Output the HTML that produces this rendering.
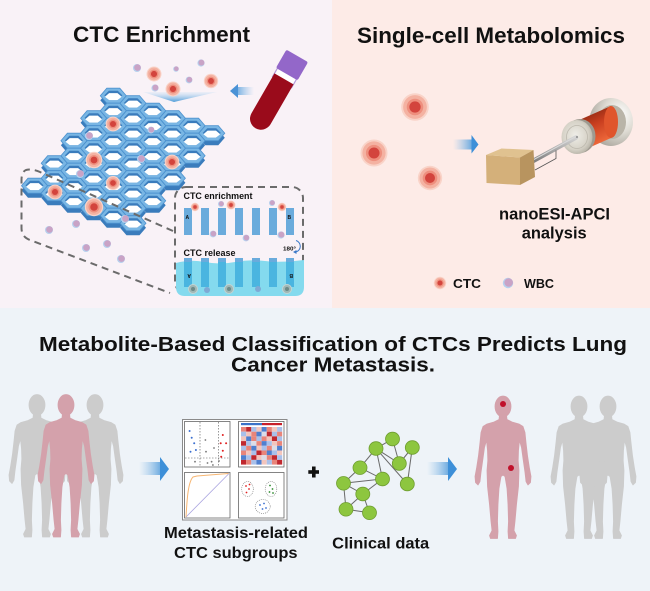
<!DOCTYPE html>
<html><head><meta charset="utf-8"><style>
html,body{margin:0;padding:0;background:#eef3f8;}
svg{display:block;}
text{font-family:"Liberation Sans",Arial,sans-serif;font-weight:bold;fill:#111;}
</style></head><body>
<svg width="650" height="591" viewBox="0 0 650 591" xmlns="http://www.w3.org/2000/svg">
<defs>
 <linearGradient id="shaftR" x1="0" y1="0" x2="1" y2="0"><stop offset="0" stop-color="#9cc7ec" stop-opacity="0"/><stop offset="1" stop-color="#6aa9df"/></linearGradient>
 <linearGradient id="shaftL" x1="1" y1="0" x2="0" y2="0"><stop offset="0" stop-color="#9cc7ec" stop-opacity="0"/><stop offset="1" stop-color="#6aa9df"/></linearGradient>
 <linearGradient id="wedge" x1="0" y1="0" x2="0" y2="1"><stop offset="0" stop-color="#cfe4f6" stop-opacity="0.3"/><stop offset="1" stop-color="#4d9bd8"/></linearGradient>
 <radialGradient id="backF" cx="0.7" cy="0.35" r="0.75"><stop offset="0" stop-color="#ffffff"/><stop offset="0.5" stop-color="#dedbd3"/><stop offset="1" stop-color="#a8a49b"/></radialGradient>
 <linearGradient id="redB" x1="0" y1="0" x2="0.35" y2="1"><stop offset="0" stop-color="#6a1e0c"/><stop offset="0.5" stop-color="#c83e1f"/><stop offset="1" stop-color="#f5703f"/></linearGradient>
 <radialGradient id="frontF" cx="0.45" cy="0.45" r="0.6"><stop offset="0" stop-color="#efeee8"/><stop offset="0.7" stop-color="#d6d2c7"/><stop offset="1" stop-color="#b3afa3"/></radialGradient>
 <linearGradient id="rod" x1="0" y1="0" x2="0" y2="1"><stop offset="0" stop-color="#d4d4d4"/><stop offset="1" stop-color="#808080"/></linearGradient>
 <g id="hx">
  <polygon points="-13,4.5 -6.5,-3 6.5,-3 13,4.5 6.5,12 -6.5,12" fill="#3a7cbc"/>
  <polygon points="-13,0 -6.5,-7.5 6.5,-7.5 13,0 6.5,7.5 -6.5,7.5" fill="#79b6e4" stroke="#4d92cf" stroke-width="0.8"/>
  <polygon points="-9,-0.3 -4.5,-5 4.5,-5 9,-0.3 4.5,4.4 -4.5,4.4" fill="#3a7cbc"/>
  <polygon points="-8.4,1 -4.2,-2.6 4.2,-2.6 8.4,1 4.2,4.4 -4.2,4.4" fill="#ffffff"/>
 </g>
 <g id="ctc">
  <circle r="10" fill="#f9d3c8"/>
  <circle r="8.6" fill="#f4b2a2"/>
  <circle r="6" fill="#ee8f7e"/>
  <circle r="4.1" fill="#d3443d"/>
 </g>
 <g id="wbc">
  <circle r="4" fill="#b6d1ee"/>
  <circle cx="0.5" cy="-0.4" r="3.3" fill="#c9a3c6"/>
 </g>
 <path id="hum" d="M3.5,18 L4,23 L9,25.5 L16,27.5 L20,30 L22,36 L23,46 L24.5,59 L26.5,72 L28,80 L27.5,86 L25,88.5 L23,85 L22,76 L20,62 L18.5,51 L16.5,44 L15.5,54 L15.2,64 L16,74 L15.5,90 L13.5,108 L12,125 L11,134 L13.5,139 L12.5,142 L5.5,142 L5,135 L5.5,125 L5,108 L4,92 L2,80 L0,78.5 L-2,80 L-4,92 L-5,108 L-5.5,125 L-5,135 L-5.5,142 L-12.5,142 L-13.5,139 L-11,134 L-12,125 L-13.5,108 L-15.5,90 L-16,74 L-15.2,64 L-15.5,54 L-16.5,44 L-18.5,51 L-20,62 L-22,76 L-23,85 L-25,88.5 L-27.5,86 L-28,80 L-26.5,72 L-24.5,59 L-23,46 L-22,36 L-20,30 L-16,27.5 L-9,25.5 L-4,23 L-3.5,18 Z M8,10 A8,10.5 0 1 1 -8,10 A8,10.5 0 1 1 8,10 Z"/>
</defs>

<!-- backgrounds -->
<rect x="0" y="0" width="650" height="591" fill="#eef3f8"/>
<rect x="0" y="0" width="332" height="308" fill="#f9f2f7"/>
<rect x="332" y="0" width="318" height="308" fill="#fdebe7"/>

<!-- titles -->
<text x="73" y="42" font-size="22" textLength="177" lengthAdjust="spacingAndGlyphs">CTC Enrichment</text>
<text x="357" y="43" font-size="22" textLength="268" lengthAdjust="spacingAndGlyphs">Single-cell Metabolomics</text>

<!-- top cells & wedge -->
<polygon points="143,92 217,92 174,102" fill="url(#wedge)"/>
<use href="#ctc" transform="translate(154,74) scale(0.75)"/>
<use href="#ctc" transform="translate(173,89) scale(0.75)"/>
<use href="#ctc" transform="translate(211,81) scale(0.72)"/>
<use href="#wbc" transform="translate(137,68)"/>
<use href="#wbc" transform="translate(176,69) scale(0.7)"/>
<use href="#wbc" transform="translate(201,63) scale(0.9)"/>
<use href="#wbc" transform="translate(189,80) scale(0.85)"/>
<use href="#wbc" transform="translate(155,88) scale(0.9)"/>

<!-- arrow left -->
<rect x="236" y="87" width="18" height="8" fill="url(#shaftL)"/>
<polygon points="238,84 230,91 238,98" fill="#4a92d6"/>

<!-- tube -->
<g transform="translate(292,65) rotate(30)">
 <rect x="-11" y="6" width="22" height="14" fill="#ffffff" stroke="#b59ad8" stroke-width="1.2"/>
 <path d="M-11,16 H11 V62 A11,11 0 0 1 -11,62 Z" fill="#9a0b1b"/>
 <rect x="-12.5" y="-10.5" width="25" height="21" rx="2" fill="#9367c9"/>
</g>

<!-- honeycomb -->
<g>
<use href="#hx" x="113.3" y="95.7"/>
<use href="#hx" x="133" y="103.2"/>
<use href="#hx" x="113.3" y="110.7"/><use href="#hx" x="152.7" y="110.7"/>
<use href="#hx" x="93.6" y="118.2"/><use href="#hx" x="133" y="118.2"/><use href="#hx" x="172.4" y="118.2"/>
<use href="#hx" x="113.3" y="125.7"/><use href="#hx" x="152.7" y="125.7"/><use href="#hx" x="192.1" y="125.7"/>
<use href="#hx" x="93.6" y="133.2"/><use href="#hx" x="133" y="133.2"/><use href="#hx" x="172.4" y="133.2"/><use href="#hx" x="211.8" y="133.2"/>
<use href="#hx" x="73.9" y="140.7"/><use href="#hx" x="113.3" y="140.7"/><use href="#hx" x="152.7" y="140.7"/><use href="#hx" x="192.1" y="140.7"/>
<use href="#hx" x="93.6" y="148.2"/><use href="#hx" x="133" y="148.2"/><use href="#hx" x="172.4" y="148.2"/>
<use href="#hx" x="73.9" y="155.7"/><use href="#hx" x="113.3" y="155.7"/><use href="#hx" x="152.7" y="155.7"/><use href="#hx" x="192.1" y="155.7"/>
<use href="#hx" x="54.2" y="163.2"/><use href="#hx" x="93.6" y="163.2"/><use href="#hx" x="133" y="163.2"/><use href="#hx" x="172.4" y="163.2"/>
<use href="#hx" x="73.9" y="170.7"/><use href="#hx" x="113.3" y="170.7"/><use href="#hx" x="152.7" y="170.7"/>
<use href="#hx" x="54.2" y="178.2"/><use href="#hx" x="93.6" y="178.2"/><use href="#hx" x="133" y="178.2"/><use href="#hx" x="172.4" y="178.2"/>
<use href="#hx" x="34.5" y="185.7"/><use href="#hx" x="73.9" y="185.7"/><use href="#hx" x="113.3" y="185.7"/><use href="#hx" x="152.7" y="185.7"/>
<use href="#hx" x="54.2" y="193.2"/><use href="#hx" x="93.6" y="193.2"/><use href="#hx" x="133" y="193.2"/>
<use href="#hx" x="73.9" y="200.7"/><use href="#hx" x="113.3" y="200.7"/><use href="#hx" x="152.7" y="200.7"/>
<use href="#hx" x="93.6" y="208.2"/><use href="#hx" x="133" y="208.2"/>
<use href="#hx" x="113.3" y="215.7"/>
<use href="#hx" x="133" y="223.2"/>
</g>

<!-- dashed callout -->
<path d="M173,231 L40,172 Q32,168.5 26,170 Q21.5,172 21.5,180 L21.5,228 Q21.5,237 30,240 L170,293" fill="none" stroke="#6b6b6b" stroke-width="2" stroke-dasharray="7 5"/>
<rect x="175" y="187" width="128" height="106" rx="11" fill="none" stroke="#6b6b6b" stroke-width="2" stroke-dasharray="7 5"/>

<!-- cells on grid -->
<use href="#ctc" transform="translate(113,124) scale(0.74)"/>
<use href="#ctc" transform="translate(94,160) scale(0.83)"/>
<use href="#ctc" transform="translate(172,162) scale(0.74)"/>
<use href="#ctc" transform="translate(113,183) scale(0.7)"/>
<use href="#ctc" transform="translate(55,192) scale(0.74)"/>
<use href="#ctc" transform="translate(94,207) scale(0.92)"/>
<use href="#wbc" transform="translate(89,136)"/>
<use href="#wbc" transform="translate(151,130) scale(0.85)"/>
<use href="#wbc" transform="translate(141,159)"/>
<use href="#wbc" transform="translate(80,174)"/>
<use href="#wbc" transform="translate(125,219)"/>
<use href="#wbc" transform="translate(49,230)"/>
<use href="#wbc" transform="translate(76,224)"/>
<use href="#wbc" transform="translate(86,248)"/>
<use href="#wbc" transform="translate(107,244)"/>
<use href="#wbc" transform="translate(121,259)"/>

<!-- inset -->
<text x="183.5" y="199" font-size="9" textLength="69" lengthAdjust="spacingAndGlyphs">CTC enrichment</text>
<g fill="#6aabdc">
 <rect x="184" y="208" width="8" height="27"/><rect x="201" y="208" width="8" height="27"/><rect x="218" y="208" width="8" height="27"/><rect x="235" y="208" width="8" height="27"/><rect x="252" y="208" width="8" height="27"/><rect x="269" y="208" width="8" height="27"/><rect x="286" y="208" width="8" height="27"/>
</g>
<text x="185.5" y="219" font-size="5" fill="#333">A</text>
<text x="287.5" y="219" font-size="5" fill="#333">B</text>
<use href="#ctc" transform="translate(195,207) scale(0.42)"/>
<use href="#ctc" transform="translate(231,205) scale(0.45)"/>
<use href="#ctc" transform="translate(282,207) scale(0.42)"/>
<use href="#wbc" transform="translate(221,204) scale(0.75)"/>
<use href="#wbc" transform="translate(272,203) scale(0.75)"/>
<use href="#wbc" transform="translate(213,234) scale(0.85)"/>
<use href="#wbc" transform="translate(246,238) scale(0.85)"/>
<use href="#wbc" transform="translate(281,235) scale(0.9)"/>
<text x="283" y="250.5" font-size="5.5" textLength="13" lengthAdjust="spacingAndGlyphs">180°</text>
<path d="M296,240.5 A6,6 0 0 1 296,252" fill="none" stroke="#3a78c8" stroke-width="1"/>
<polygon points="296.5,250 296.5,254 293,252" fill="#3a78c8"/>
<text x="183.5" y="256" font-size="9" textLength="52" lengthAdjust="spacingAndGlyphs">CTC release</text>
<path d="M176,263 Q190,259 205,262 T235,262 T265,261 T304,260 L304,287 Q304,296 295,296 L185,296 Q176,296 176,287 Z" fill="#84daee"/>
<g fill="#4ab5e0">
 <rect x="184" y="258" width="8" height="29"/><rect x="201" y="258" width="8" height="29"/><rect x="218" y="258" width="8" height="29"/><rect x="235" y="258" width="8" height="29"/><rect x="252" y="258" width="8" height="29"/><rect x="269" y="258" width="8" height="29"/><rect x="286" y="258" width="8" height="29"/>
</g>
<g fill="#6aabdc">
 <rect x="184" y="258" width="8" height="4"/><rect x="201" y="258" width="8" height="4"/><rect x="218" y="258" width="8" height="4"/><rect x="235" y="258" width="8" height="4"/><rect x="252" y="258" width="8" height="4"/><rect x="269" y="258" width="8" height="4"/><rect x="286" y="258" width="8" height="4"/>
</g>
<text x="0" y="0" font-size="5" fill="#335" transform="translate(191,274) rotate(180)">A</text>
<text x="0" y="0" font-size="5" fill="#335" transform="translate(293,274) rotate(180)">B</text>
<g>
 <circle cx="193" cy="289" r="4.5" fill="#9fb7b5" stroke="#c3d4d2" stroke-width="1"/><circle cx="193" cy="289" r="2" fill="#6d8a88"/>
 <circle cx="229" cy="289" r="4.5" fill="#9fb7b5" stroke="#c3d4d2" stroke-width="1"/><circle cx="229" cy="289" r="2" fill="#6d8a88"/>
 <circle cx="287" cy="289" r="4.5" fill="#9fb7b5" stroke="#c3d4d2" stroke-width="1"/><circle cx="287" cy="289" r="2" fill="#6d8a88"/>
 <circle cx="207" cy="290" r="3" fill="#7fa9d4"/>
 <circle cx="258" cy="289" r="3" fill="#7fa9d4"/>
</g>

<!-- top right panel -->
<use href="#ctc" transform="translate(415,107) scale(1.38)"/>
<use href="#ctc" transform="translate(374,153) scale(1.35)"/>
<use href="#ctc" transform="translate(430,178) scale(1.22)"/>
<rect x="453" y="139.5" width="19" height="10" fill="url(#shaftR)"/>
<polygon points="471.5,135 478.5,144.5 471.5,153.5" fill="#3d8fd8"/>

<!-- instrument -->
<ellipse cx="611" cy="122" rx="22" ry="24" fill="url(#backF)"/>
<ellipse cx="612" cy="122" rx="14" ry="17" fill="#b9b4a8"/>
<polygon points="577,121 611,106 611,138 577,153" fill="url(#redB)"/>
<ellipse cx="611" cy="122" rx="7" ry="16" fill="#e0552c"/>
<ellipse cx="580" cy="136" rx="15.5" ry="17" fill="#9e9a90"/>
<ellipse cx="577" cy="137" rx="15.5" ry="17" fill="url(#frontF)"/>
<ellipse cx="577" cy="137" rx="10.5" ry="11.5" fill="none" stroke="#bcb8ad" stroke-width="0.8"/>
<line x1="533" y1="161" x2="576" y2="137.5" stroke="url(#rod)" stroke-width="4.5" stroke-linecap="round"/>
<line x1="533" y1="160" x2="576" y2="136.5" stroke="#d8d8d8" stroke-width="1"/>
<circle cx="577" cy="137" r="0.9" fill="#777"/>
<polygon points="486,155 520,157.5 520,185 486.5,183" fill="#d4b07a"/>
<polygon points="486,155 501.5,148.5 533.5,150 520,157.5" fill="#e0c290"/>
<polygon points="520,157.5 533.5,150 535,177 520,185" fill="#b8945f"/>
<polyline points="535,170 556,158.5 556,150.5" fill="none" stroke="#555" stroke-width="0.8"/>
<text x="554.5" y="219.5" font-size="16.5" text-anchor="middle" textLength="111" lengthAdjust="spacingAndGlyphs">nanoESI-APCI</text>
<text x="554.2" y="238.5" font-size="16.5" text-anchor="middle" textLength="65" lengthAdjust="spacingAndGlyphs">analysis</text>
<use href="#ctc" transform="translate(440,283) scale(0.62)"/>
<text x="453" y="288" font-size="13" textLength="28" lengthAdjust="spacingAndGlyphs">CTC</text>
<g transform="translate(508,283) scale(1.3)"><use href="#wbc"/></g>
<text x="524" y="288" font-size="13" textLength="30" lengthAdjust="spacingAndGlyphs">WBC</text>

<!-- bottom title -->
<text x="39" y="351" font-size="20.5" textLength="588" lengthAdjust="spacingAndGlyphs">Metabolite-Based Classification of CTCs Predicts Lung</text>
<text x="231" y="371.5" font-size="20.5" textLength="204" lengthAdjust="spacingAndGlyphs">Cancer Metastasis.</text>

<!-- people left -->
<use href="#hum" transform="translate(37,395)" fill="#cccccc" stroke="#cccccc" stroke-width="0.8" stroke-linejoin="round"/>
<use href="#hum" transform="translate(95,395)" fill="#cccccc" stroke="#cccccc" stroke-width="0.8" stroke-linejoin="round"/>
<use href="#hum" transform="translate(66,395)" fill="#d4a1ab" stroke="#d4a1ab" stroke-width="0.8" stroke-linejoin="round"/>

<!-- arrows -->
<rect x="139" y="462" width="22" height="13" fill="url(#shaftR)"/>
<polygon points="160,457 169,469 160,481" fill="#3d8fd8"/>
<rect x="427" y="462" width="22" height="13" fill="url(#shaftR)"/>
<polygon points="448,457 457,469 448,481" fill="#3d8fd8"/>

<!-- charts -->
<rect x="182.5" y="419.5" width="104.5" height="100.5" fill="#ffffff" stroke="#8a8a8a" stroke-width="1"/>
<rect x="184.5" y="421.5" width="45.5" height="45.5" fill="#fff" stroke="#666" stroke-width="0.8"/>
<rect x="238.5" y="421.5" width="45.5" height="45.5" fill="#fff" stroke="#666" stroke-width="0.8"/>
<rect x="184.5" y="472.5" width="45.5" height="45.5" fill="#fff" stroke="#666" stroke-width="0.8"/>
<rect x="238.5" y="472.5" width="45.5" height="45.5" fill="#fff" stroke="#666" stroke-width="0.8"/>
<g stroke="#555" stroke-width="0.6" stroke-dasharray="1.5 1.5">
 <line x1="200" y1="422" x2="200" y2="466.5"/><line x1="218.5" y1="422" x2="218.5" y2="466.5"/><line x1="185" y1="458" x2="229.5" y2="458"/>
</g>
<g fill="#3b6fd0"><circle cx="189.6" cy="431" r="1"/><circle cx="191.7" cy="437.7" r="1"/><circle cx="194.2" cy="443.3" r="1"/><circle cx="195.9" cy="450" r="1"/><circle cx="190.5" cy="451.7" r="1"/></g>
<g fill="#e02020"><circle cx="222.8" cy="435" r="1"/><circle cx="220.7" cy="443.3" r="1"/><circle cx="226.1" cy="443.3" r="1"/><circle cx="222.8" cy="450.7" r="1"/><circle cx="221.2" cy="456.7" r="1"/></g>
<g fill="#777"><circle cx="205.4" cy="440" r="0.9"/><circle cx="206" cy="451.7" r="0.9"/><circle cx="195" cy="461.7" r="0.9"/><circle cx="211.6" cy="461.7" r="0.9"/><circle cx="212.9" cy="465" r="0.9"/><circle cx="207.5" cy="463" r="0.9"/><circle cx="219" cy="461" r="0.9"/><circle cx="214" cy="448" r="0.9"/></g>
<rect x="241" y="423" width="21" height="2.2" fill="#3a72c8"/><rect x="262" y="423" width="20" height="2.2" fill="#c81e2a"/>
<g>
<rect x="241" y="427" width="5.15" height="4.7" fill="#e9857a"/><rect x="246.15" y="427" width="5.15" height="4.7" fill="#c0282f"/><rect x="251.3" y="427" width="5.15" height="4.7" fill="#a9c0ea"/><rect x="256.45" y="427" width="5.15" height="4.7" fill="#f3c5bd"/><rect x="261.6" y="427" width="5.15" height="4.7" fill="#4f7fcf"/><rect x="266.75" y="427" width="5.15" height="4.7" fill="#e9857a"/><rect x="271.9" y="427" width="5.15" height="4.7" fill="#f3c5bd"/><rect x="277.05" y="427" width="5.15" height="4.7" fill="#a9c0ea"/>
<rect x="241" y="431.7" width="5.15" height="4.7" fill="#a9c0ea"/><rect x="246.15" y="431.7" width="5.15" height="4.7" fill="#f3c5bd"/><rect x="251.3" y="431.7" width="5.15" height="4.7" fill="#e9857a"/><rect x="256.45" y="431.7" width="5.15" height="4.7" fill="#4f7fcf"/><rect x="261.6" y="431.7" width="5.15" height="4.7" fill="#dcdde8"/><rect x="266.75" y="431.7" width="5.15" height="4.7" fill="#c0282f"/><rect x="271.9" y="431.7" width="5.15" height="4.7" fill="#a9c0ea"/><rect x="277.05" y="431.7" width="5.15" height="4.7" fill="#e9857a"/>
<rect x="241" y="436.4" width="5.15" height="4.7" fill="#f3c5bd"/><rect x="246.15" y="436.4" width="5.15" height="4.7" fill="#4f7fcf"/><rect x="251.3" y="436.4" width="5.15" height="4.7" fill="#e9857a"/><rect x="256.45" y="436.4" width="5.15" height="4.7" fill="#a9c0ea"/><rect x="261.6" y="436.4" width="5.15" height="4.7" fill="#e9857a"/><rect x="266.75" y="436.4" width="5.15" height="4.7" fill="#f3c5bd"/><rect x="271.9" y="436.4" width="5.15" height="4.7" fill="#c0282f"/><rect x="277.05" y="436.4" width="5.15" height="4.7" fill="#a9c0ea"/>
<rect x="241" y="441.1" width="5.15" height="4.7" fill="#c0282f"/><rect x="246.15" y="441.1" width="5.15" height="4.7" fill="#a9c0ea"/><rect x="251.3" y="441.1" width="5.15" height="4.7" fill="#dcdde8"/><rect x="256.45" y="441.1" width="5.15" height="4.7" fill="#e9857a"/><rect x="261.6" y="441.1" width="5.15" height="4.7" fill="#4f7fcf"/><rect x="266.75" y="441.1" width="5.15" height="4.7" fill="#a9c0ea"/><rect x="271.9" y="441.1" width="5.15" height="4.7" fill="#f3c5bd"/><rect x="277.05" y="441.1" width="5.15" height="4.7" fill="#e9857a"/>
<rect x="241" y="445.8" width="5.15" height="4.7" fill="#a9c0ea"/><rect x="246.15" y="445.8" width="5.15" height="4.7" fill="#e9857a"/><rect x="251.3" y="445.8" width="5.15" height="4.7" fill="#4f7fcf"/><rect x="256.45" y="445.8" width="5.15" height="4.7" fill="#f3c5bd"/><rect x="261.6" y="445.8" width="5.15" height="4.7" fill="#a9c0ea"/><rect x="266.75" y="445.8" width="5.15" height="4.7" fill="#e9857a"/><rect x="271.9" y="445.8" width="5.15" height="4.7" fill="#dcdde8"/><rect x="277.05" y="445.8" width="5.15" height="4.7" fill="#4f7fcf"/>
<rect x="241" y="450.5" width="5.15" height="4.7" fill="#e9857a"/><rect x="246.15" y="450.5" width="5.15" height="4.7" fill="#f3c5bd"/><rect x="251.3" y="450.5" width="5.15" height="4.7" fill="#a9c0ea"/><rect x="256.45" y="450.5" width="5.15" height="4.7" fill="#c0282f"/><rect x="261.6" y="450.5" width="5.15" height="4.7" fill="#e9857a"/><rect x="266.75" y="450.5" width="5.15" height="4.7" fill="#4f7fcf"/><rect x="271.9" y="450.5" width="5.15" height="4.7" fill="#a9c0ea"/><rect x="277.05" y="450.5" width="5.15" height="4.7" fill="#f3c5bd"/>
<rect x="241" y="455.2" width="5.15" height="4.7" fill="#4f7fcf"/><rect x="246.15" y="455.2" width="5.15" height="4.7" fill="#a9c0ea"/><rect x="251.3" y="455.2" width="5.15" height="4.7" fill="#c0282f"/><rect x="256.45" y="455.2" width="5.15" height="4.7" fill="#f3c5bd"/><rect x="261.6" y="455.2" width="5.15" height="4.7" fill="#dcdde8"/><rect x="266.75" y="455.2" width="5.15" height="4.7" fill="#e9857a"/><rect x="271.9" y="455.2" width="5.15" height="4.7" fill="#c0282f"/><rect x="277.05" y="455.2" width="5.15" height="4.7" fill="#a9c0ea"/>
<rect x="241" y="459.9" width="5.15" height="4.7" fill="#c0282f"/><rect x="246.15" y="459.9" width="5.15" height="4.7" fill="#e9857a"/><rect x="251.3" y="459.9" width="5.15" height="4.7" fill="#a9c0ea"/><rect x="256.45" y="459.9" width="5.15" height="4.7" fill="#4f7fcf"/><rect x="261.6" y="459.9" width="5.15" height="4.7" fill="#f3c5bd"/><rect x="266.75" y="459.9" width="5.15" height="4.7" fill="#a9c0ea"/><rect x="271.9" y="459.9" width="5.15" height="4.7" fill="#e9857a"/><rect x="277.05" y="459.9" width="5.15" height="4.7" fill="#c0282f"/>
</g>
<line x1="186" y1="517" x2="229" y2="473.5" stroke="#aaa4e0" stroke-width="0.8"/>
<path d="M186,517 C187,500 188,482 193,477 L197,476 L228.5,473.5" fill="none" stroke="#f7b672" stroke-width="1"/>
<g fill="#fff" stroke="#777" stroke-width="0.6" stroke-dasharray="1 1">
 <ellipse cx="247.5" cy="489" rx="5.8" ry="7.5"/><ellipse cx="271" cy="489" rx="5.8" ry="7.5"/><ellipse cx="262.7" cy="506.5" rx="7.5" ry="7"/>
</g>
<g fill="#e02020"><circle cx="246" cy="486" r="0.9"/><circle cx="249" cy="489" r="0.9"/><circle cx="246.5" cy="492.5" r="0.9"/><circle cx="249.5" cy="484.5" r="0.9"/></g>
<g fill="#2e8b2e"><circle cx="270" cy="485.5" r="0.9"/><circle cx="272.5" cy="489" r="0.9"/><circle cx="269.5" cy="492" r="0.9"/><circle cx="273" cy="493" r="0.9"/></g>
<g fill="#3b6fd0"><circle cx="260" cy="505" r="0.9"/><circle cx="264" cy="503.5" r="0.9"/><circle cx="262.5" cy="509" r="0.9"/><circle cx="266" cy="508" r="0.9"/></g>
<text x="236" y="538" font-size="15.5" text-anchor="middle" textLength="144" lengthAdjust="spacingAndGlyphs">Metastasis-related</text>
<text x="235.8" y="558" font-size="15.5" text-anchor="middle" textLength="123.5" lengthAdjust="spacingAndGlyphs">CTC subgroups</text>

<!-- plus -->
<rect x="308.3" y="470.2" width="10.7" height="3.6" fill="#111"/>
<rect x="312" y="466.5" width="3.6" height="11" fill="#111"/>

<!-- network -->
<g stroke="#6a6a6a" stroke-width="1">
 <line x1="392.5" y1="439" x2="376" y2="448.5"/>
 <line x1="392.5" y1="439" x2="399.3" y2="463.5"/>
 <line x1="376" y1="448.5" x2="399.3" y2="463.5"/>
 <line x1="376" y1="448.5" x2="360" y2="467.7"/>
 <line x1="376" y1="448.5" x2="382.5" y2="479"/>
 <line x1="376" y1="448.5" x2="407.3" y2="484"/>
 <line x1="412.3" y1="447.5" x2="399.3" y2="463.5"/>
 <line x1="412.3" y1="447.5" x2="407.3" y2="484"/>
 <line x1="360" y1="467.7" x2="382.5" y2="479"/>
 <line x1="360" y1="467.7" x2="343.5" y2="483.3"/>
 <line x1="343.5" y1="483.3" x2="382.5" y2="479"/>
 <line x1="343.5" y1="483.3" x2="362.8" y2="494"/>
 <line x1="382.5" y1="479" x2="362.8" y2="494"/>
 <line x1="343.5" y1="483.3" x2="346" y2="509.3"/>
 <line x1="362.8" y1="494" x2="346" y2="509.3"/>
 <line x1="362.8" y1="494" x2="369.5" y2="512.8"/>
 <line x1="346" y1="509.3" x2="369.5" y2="512.8"/>
</g>
<g fill="#8dc63f" stroke="#6f9e31" stroke-width="0.8">
 <ellipse cx="392.5" cy="439" rx="7" ry="6.8"/>
 <ellipse cx="412.3" cy="447.5" rx="7" ry="6.8"/>
 <ellipse cx="376" cy="448.5" rx="7" ry="6.8"/>
 <ellipse cx="399.3" cy="463.5" rx="7" ry="6.8"/>
 <ellipse cx="360" cy="467.7" rx="7" ry="6.8"/>
 <ellipse cx="382.5" cy="479" rx="7" ry="6.8"/>
 <ellipse cx="343.5" cy="483.3" rx="7" ry="6.8"/>
 <ellipse cx="407.3" cy="484" rx="7" ry="6.8"/>
 <ellipse cx="362.8" cy="494" rx="7" ry="6.8"/>
 <ellipse cx="346" cy="509.3" rx="7" ry="6.8"/>
 <ellipse cx="369.5" cy="512.8" rx="7" ry="6.8"/>
</g>
<text x="380.7" y="548.5" font-size="15.5" text-anchor="middle" textLength="97" lengthAdjust="spacingAndGlyphs">Clinical data</text>

<!-- people right -->
<use href="#hum" transform="translate(503,396.5)" fill="#d4a1ab" stroke="#d4a1ab" stroke-width="0.8" stroke-linejoin="round"/>
<circle cx="503" cy="404" r="3" fill="#c0102a"/>
<circle cx="511" cy="468" r="3" fill="#c0102a"/>
<use href="#hum" transform="translate(608,396.5)" fill="#cccccc" stroke="#cccccc" stroke-width="0.8" stroke-linejoin="round"/>
<use href="#hum" transform="translate(579,396.5)" fill="#cccccc" stroke="#cccccc" stroke-width="0.8" stroke-linejoin="round"/>
</svg>
</body></html>
